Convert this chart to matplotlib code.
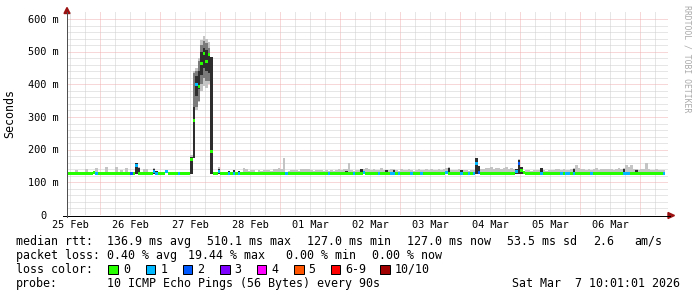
import numpy as np
import matplotlib
matplotlib.use('Agg')
import matplotlib.pyplot as plt
from matplotlib import transforms
from matplotlib.patches import Polygon, Rectangle
from matplotlib.lines import Line2D

W, H = 697, 297
nan = float('nan')

# ------------------------------------------------------------------ data
# hourly bins; first bin starts at hour -13 relative to 26 Feb 00:00
start_hour = -13

median_ms = [
    128,128,128,128,128,128,128,128,128,128,130,128,128,128,128,128,128,128,128,128,128,128,128,128,
    128,127,127,152,128,127,127,127,127,127,132,127,127,127,127,133,127,127,127,127,127,127,127,127,
    127,170,290,400,392,465,495,470,490,195,127,127,132,127,127,127,127,127,127,127,127,127,127,127,
    127,127,127,127,127,127,127,127,127,127,127,127,127,127,127,127,127,127,127,127,127,127,127,127,
    127,127,127,127,127,127,127,127,127,127,127,127,127,127,127,127,127,127,127,127,127,127,130,127,
    127,127,127,127,127,127,127,127,127,127,127,127,127,127,127,127,127,127,127,127,127,127,127,127,
    127,127,127,127,127,127,127,130,127,127,127,127,127,127,127,127,127,127,127,158,130,127,127,127,
    127,127,127,127,127,127,127,127,127,127,127,132,158,135,130,127,127,127,127,127,127,127,127,127,
    127,127,127,127,127,127,127,127,127,127,127,127,127,127,127,127,127,127,127,127,127,127,127,127,
    127,127,127,127,127,127,127,127,127,127,127,127,127,127,127,127,127,127,127,127,127,127,127,nan,
]

loss_count = [
    0,0,0,0,0,0,0,0,0,0,0,1,0,0,0,0,0,0,0,0,0,0,0,0,
    0,2,0,1,0,0,0,0,0,0,1,1,0,0,0,1,0,0,0,0,1,0,0,0,
    0,0,0,1,0,0,0,0,0,0,0,0,1,0,0,0,1,0,1,0,1,0,0,0,
    0,0,0,0,0,0,0,0,0,0,0,0,0,0,0,1,0,0,0,0,0,0,0,0,
    0,0,0,0,0,0,0,0,1,0,0,0,0,0,0,0,0,0,1,0,0,0,1,0,
    0,0,0,0,1,0,0,0,0,1,1,0,1,0,0,0,0,1,0,0,0,1,0,0,
    0,0,0,0,0,0,0,1,0,0,0,0,0,1,0,0,1,0,1,1,2,0,0,0,
    0,0,0,0,0,0,0,0,0,0,0,1,2,0,0,0,0,0,0,0,0,1,0,0,
    0,0,0,0,0,1,0,1,1,0,1,0,0,0,0,0,0,1,0,0,0,0,0,0,
    0,0,0,0,0,0,1,1,1,0,0,0,0,0,0,0,0,0,0,0,0,0,1,0,
]

smoke_top_ms = [
    128,128,128,138,128,128,128,142,130,128,131,143,128,128,130,146,128,128,130,148,128,138,128,145,
    128,128,130,160,148,128,140,140,128,130,143,136,128,128,133,138,128,133,128,130,128,128,127,127,
    128,185,440,450,480,535,548,540,530,215,127,130,148,130,127,128,136,130,138,128,136,130,145,140,
    135,138,138,132,137,136,137,138,137,136,140,142,145,140,174,133,136,137,138,137,135,140,142,141,
    140,138,136,138,137,139,136,137,135,137,135,138,140,137,142,140,160,138,136,137,139,141,140,143,
    142,138,140,137,138,145,139,138,137,141,140,138,136,142,139,137,140,138,136,139,141,138,137,140,
    138,140,137,139,141,138,140,143,146,139,137,138,140,139,137,138,136,139,138,176,150,142,140,145,
    144,146,142,145,143,140,144,146,141,143,140,142,170,148,135,137,138,136,139,137,138,144,137,136,
    137,139,138,140,142,138,140,139,138,141,143,152,145,140,142,139,141,138,140,143,139,141,140,142,
    140,142,139,141,143,140,145,154,146,153,141,140,139,142,140,160,141,139,138,140,137,139,138,127,
]

# lower edge of the light smoke where it drops clearly below the median
smoke_low_bins = [49, 50, 51, 52, 53, 54, 55, 56, 57]
smoke_low_ms = [160, 250, 320, 345, 380, 395, 390, 400, 175]

# medium smoke (peak only)
mid_bins = [50, 51, 52, 53, 54, 55, 56]
mid_low_ms = [260, 330, 350, 400, 420, 410, 410]
mid_top_ms = [435, 440, 470, 520, 532, 525, 512]

# dark smoke (dense pings)
dark_bins = [27, 28, 34, 35, 49, 50, 51, 52, 53, 54, 55, 56, 57, 60, 64, 66, 68, 87, 111, 117,
             127, 130, 152, 157, 163, 164, 179, 180, 181, 189, 202, 222, 227]
dark_low_ms = [127, 127, 127, 127, 127, 175, 365, 385, 430, 450, 440, 435, 127, 127, 127, 127, 127, 127, 127, 127,
               127, 127, 127, 127, 127, 127, 127, 127, 127, 127, 127, 127, 127]
dark_top_ms = [158, 145, 142, 135, 178, 330, 425, 440, 500, 512, 505, 492, 485, 142, 134, 138, 136, 133, 135, 141,
               138, 138, 144, 137, 174, 150, 140, 168, 148, 144, 141, 140, 137]

day_labels = ['25 Feb', '26 Feb', '27 Feb', '28 Feb', '01 Mar',
              '02 Mar', '03 Mar', '04 Mar', '05 Mar', '06 Mar']
y_ticks = [0, 100, 200, 300, 400, 500, 600]
y_tick_labels = ['0', '100 m', '200 m', '300 m', '400 m', '500 m', '600 m']

loss_labels = ['0', '1', '2', '3', '4', '5', '6-9', '10/10']
loss_colors = ['#26ff00', '#00b8ff', '#0059ff', '#7e00ff', '#ff00ff', '#ff5500', '#ff0000', '#a10000']

rtt_stats = ['136.9 ms avg', '510.1 ms max', '127.0 ms min', '127.0 ms now', '53.5 ms sd', '2.6', 'am/s']
loss_stats = ['0.40 % avg', '19.44 % max', '0.00 % min', '0.00 % now']
probe_text = '10 ICMP Echo Pings (56 Bytes) every 90s'
stamp_text = 'Sat Mar  7 10:01:01 2026'

# ------------------------------------------------------------------ figure
mono = 'DejaVu Sans Mono'
fig = plt.figure(figsize=(W / 100, H / 100), dpi=100, facecolor='white')
ax = fig.add_axes([67 / W, 1 - 215 / H, (668 - 67) / W, (215 - 12) / H])
ax.set_xlim(-13.2, 227.2)
ax.set_ylim(0, 621.4)
ax.set_facecolor('white')
for s in ax.spines.values():
    s.set_visible(False)
ax.set_xticks([])
ax.set_yticks([])

PX = 0.72  # one pixel in points
grid_gray = '#cfcfcf'
grid_red = '#f0b0b0'

# grid (dotted)
for h in range(-12, 227, 6):
    ax.axvline(h, color=grid_red if h % 24 == 0 else grid_gray, lw=PX,
               linestyle=(0, (1, 1)), zorder=1)
for v in range(20, 601, 20):
    ax.axhline(v, color=grid_red if v % 100 == 0 else grid_gray, lw=PX,
               linestyle=(0, (1, 1)), zorder=1)

n = len(median_ms)
hours = start_hour + np.arange(n) + 0.5
med = np.array(median_ms, dtype=float)
top = np.array(smoke_top_ms, dtype=float)
low = med - 3.0
for b, v in zip(smoke_low_bins, smoke_low_ms):
    low[b] = v

# light smoke
ax.bar(hours, top - low, bottom=low, width=1.0, color='#c4c4c4',
       linewidth=0, antialiased=False, zorder=2)
# medium smoke
mh = start_hour + np.array(mid_bins) + 0.5
ml = np.array(mid_low_ms, dtype=float)
mt = np.array(mid_top_ms, dtype=float)
ax.bar(mh, mt - ml, bottom=ml, width=1.0, color='#7a7a7a',
       linewidth=0, antialiased=False, zorder=2.5)
# dark smoke
dh = start_hour + np.array(dark_bins) + 0.5
dl = np.array(dark_low_ms, dtype=float)
dt = np.array(dark_top_ms, dtype=float)
ax.bar(dh, dt - dl, bottom=dl, width=1.0, color='#2e2e2e',
       linewidth=0, antialiased=False, zorder=3)

# median band coloured by loss
def loss_index(c):
    if c <= 5:
        return c
    if c < 10:
        return 6
    return 7

cols = [loss_colors[loss_index(c)] for c in loss_count]
half = 4.6
ax.bar(hours, 2 * half, bottom=med - half, width=1.0, color=cols,
       linewidth=0, antialiased=False, zorder=4)

# axes lines
fig.add_artist(Line2D([63 / W, 670 / W], [1 - 215.5 / H, 1 - 215.5 / H],
                      color='black', lw=PX, transform=fig.transFigure))
fig.add_artist(Line2D([66.5 / W, 66.5 / W], [1 - 217 / H, 1 - 12 / H],
                      color='#505050', lw=PX, transform=fig.transFigure))
arrow_col = '#9b1010'
fig.add_artist(Polygon([[64 / W, 1 - 13.5 / H], [70 / W, 1 - 13.5 / H], [67 / W, 1 - 7.5 / H]],
                       closed=True, color=arrow_col, transform=fig.transFigure))
fig.add_artist(Polygon([[668 / W, 1 - 212.5 / H], [668 / W, 1 - 218.5 / H], [674.5 / W, 1 - 215.5 / H]],
                       closed=True, color=arrow_col, transform=fig.transFigure))

# y tick labels
ytr = transforms.offset_copy(transforms.blended_transform_factory(fig.transFigure, ax.transData),
                             fig=fig, y=-3.7, units='dots')
for v, lab in zip(y_ticks, y_tick_labels):
    xr = 58.8 if lab.endswith('m') else 46.6
    fig.text(xr / W, v, lab, transform=ytr, ha='right', va='baseline',
             family=mono, fontsize=7.4, color='black')

# x tick labels (centred at noon)
xtr = transforms.blended_transform_factory(ax.transData, fig.transFigure)
for k, lab in enumerate(day_labels):
    fig.text(-12 + 24 * k, 1 - 228.5 / H, lab, transform=xtr, ha='center', va='baseline',
             family=mono, fontsize=7.4, color='black')

fig.text(10 / W, 1 - 113.5 / H, 'Seconds', rotation=90, ha='center', va='center',
         family=mono, fontsize=8.4, color='black')
fig.text(686.5 / W, 1 - 59 / H, 'RRDTOOL / TOBI OETIKER', rotation=270, ha='center', va='center',
         family=mono, fontsize=5.9, color='#aaaaaa')

# legend
def ltext(x, y, s, **kw):
    fig.text(x / W, 1 - y / H, s, family=mono, fontsize=8.4, va='baseline', color='black', **kw)

row_y = [244.7, 258.7, 272.7, 286.7]
ltext(15.5, row_y[0], 'median rtt:')
for x, s in zip([106.8, 206.8, 306.8, 406.8, 506.8, 592.8, 633.8], rtt_stats):
    ltext(x, row_y[0], s)
ltext(15.5, row_y[1], 'packet loss:')
for x, s in zip([106.8, 187.8, 285.5, 371.8], loss_stats):
    ltext(x, row_y[1], s)
ltext(15.5, row_y[2], 'loss color:')
for x, lab, c in zip([108.3, 145.7, 182.7, 220.0, 256.7, 294.0, 330.7, 380.0], loss_labels, loss_colors):
    fig.add_artist(Rectangle((x / W, 1 - 274.2 / H), 9.7 / W, 9.7 / H, facecolor=c,
                             edgecolor='black', lw=PX, transform=fig.transFigure))
    ltext(x + 14.5, row_y[2], lab)
ltext(15.5, row_y[3], 'probe:')
ltext(106.8, row_y[3], probe_text)
ltext(680.5, row_y[3], stamp_text, ha='right')

fig.savefig('out.png', dpi=100, facecolor='white')
